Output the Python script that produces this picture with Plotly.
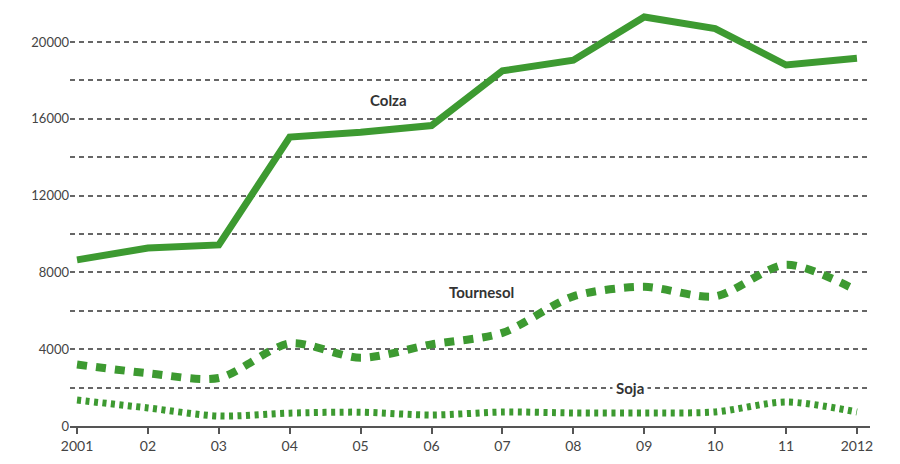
import plotly.graph_objects as go

# Production (thousand tonnes) of the main oilseed crops, 2001-2012
years = [2001, 2002, 2003, 2004, 2005, 2006, 2007, 2008, 2009, 2010, 2011, 2012]
year_labels = ["2001", "02", "03", "04", "05", "06", "07", "08", "09", "10", "11", "2012"]
colza = [8650, 9270, 9430, 15050, 15300, 15650, 18500, 19050, 21300, 20700, 18800, 19150]
tournesol = [3200, 2750, 2500, 4300, 3550, 4250, 4850, 6750, 7250, 6750, 8400, 7050]
soja = [1350, 940, 520, 670, 720, 570, 730, 680, 680, 730, 1250, 730]

y_grid = [0, 2000, 4000, 6000, 8000, 10000, 12000, 14000, 16000, 18000, 20000]
y_labels = ["0", "", "4000", "", "8000", "", "12000", "", "16000", "", "20000"]

green = "#3d9a31"
font_family = "Lato, 'DejaVu Sans', sans-serif"

fig = go.Figure()

fig.add_trace(go.Scatter(
    x=years, y=soja, mode="lines", name="Soja",
    line=dict(color=green, width=7, dash="4px,4.5px", shape="spline", smoothing=0.8),
))
fig.add_trace(go.Scatter(
    x=years, y=tournesol, mode="lines", name="Tournesol",
    line=dict(color=green, width=8, dash="10px,9px", shape="spline", smoothing=0.8),
))
fig.add_trace(go.Scatter(
    x=years, y=colza, mode="lines", name="Colza",
    line=dict(color=green, width=7),
))

label_font = dict(family=font_family, size=15, color="#333333")
fig.add_annotation(x=2005.4, y=17000, text="<b>Colza</b>", showarrow=False, font=label_font)
fig.add_annotation(x=2006.7, y=7000, text="<b>Tournesol</b>", showarrow=False, font=label_font)
fig.add_annotation(x=2008.8, y=2000, text="<b>Soja</b>", showarrow=False, font=label_font,
                   bgcolor="white", borderpad=3)

fig.update_layout(
    width=900, height=464,
    margin=dict(l=70, r=30, t=0, b=38),
    paper_bgcolor="white", plot_bgcolor="white",
    showlegend=False,
    xaxis=dict(
        range=[2000.901, 2012.184],
        tickvals=years, ticktext=year_labels,
        showgrid=False, zeroline=False,
        showline=True, linecolor="#555555", linewidth=2,
        ticks="outside", ticklen=6, tickwidth=2, tickcolor="#555555",
        tickfont=dict(family=font_family, size=14, color="#444444"),
    ),
    yaxis=dict(
        range=[0, 22187],
        tickvals=y_grid, ticktext=y_labels,
        showgrid=True, gridcolor="#666666", gridwidth=1.5, griddash="5px,4px",
        zeroline=False, showline=False, ticks="",
        tickfont=dict(family=font_family, size=13, color="#444444"),
    ),
)

fig.write_html("out.html")
